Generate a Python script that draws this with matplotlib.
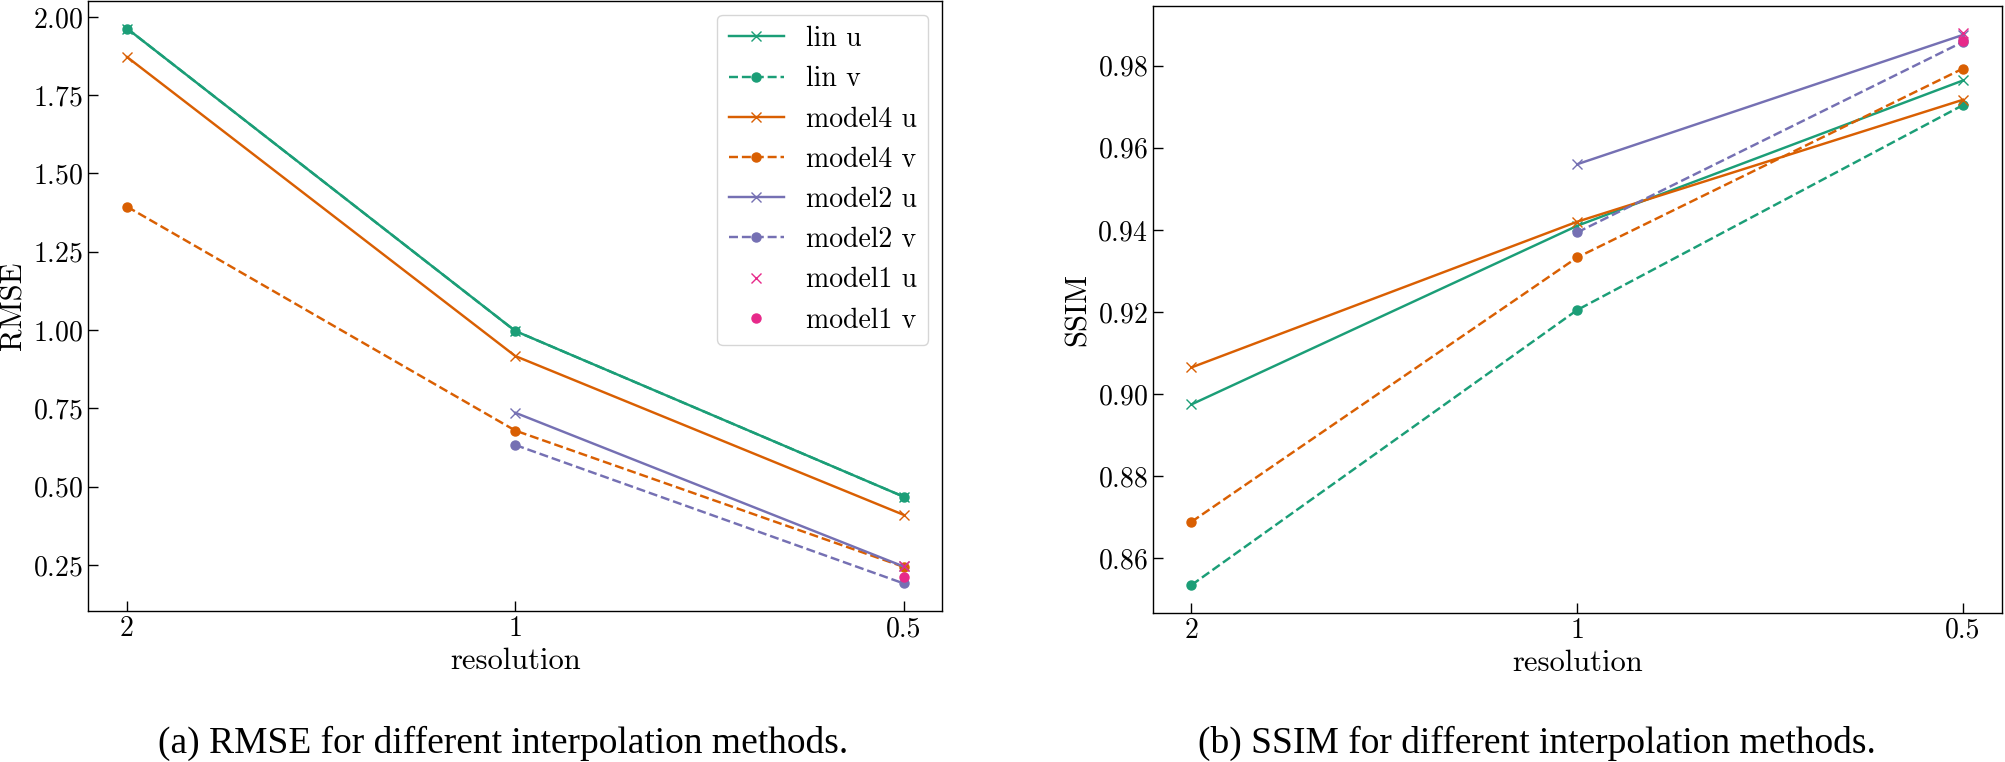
import numpy as np
import matplotlib
matplotlib.use("Agg")
import matplotlib.pyplot as plt

plt.rcParams['font.family'] = ['cmr10', 'DejaVu Serif']
plt.rcParams['axes.formatter.use_mathtext'] = True

# resolution categories (x axis)
resolutions = ['2', '1', '0.5']

# RMSE values
rmse_lin_u = [1.963, 0.997, 0.468]
rmse_lin_v = [1.963, 0.997, 0.468]
rmse_model4_u = [1.872, 0.917, 0.410]
rmse_model4_v = [1.394, 0.679, 0.244]
rmse_model2_u = [np.nan, 0.736, 0.245]
rmse_model2_v = [np.nan, 0.633, 0.191]
rmse_model1_u = [np.nan, np.nan, 0.245]
rmse_model1_v = [np.nan, np.nan, 0.210]

# SSIM values
ssim_lin_u = [0.8975, 0.9410, 0.9764]
ssim_lin_v = [0.8535, 0.9205, 0.9704]
ssim_model4_u = [0.9065, 0.9420, 0.9717]
ssim_model4_v = [0.8689, 0.9333, 0.9793]
ssim_model2_u = [np.nan, 0.9560, 0.9875]
ssim_model2_v = [np.nan, 0.9394, 0.9858]
ssim_model1_u = [np.nan, np.nan, 0.9879]
ssim_model1_v = [np.nan, np.nan, 0.9859]

green = '#1b9e77'
orange = '#d95f02'
purple = '#7570b3'
pink = '#e7298a'


def draw_panel(ax, series, ylabel):
    for label, vals, colour, ls, marker in series:
        ax.plot(resolutions, vals, color=colour, linestyle=ls, marker=marker,
                linewidth=1.75, markersize=6.5, label=label)
    ax.set_xlabel('resolution', fontsize=22)
    ax.set_ylabel(ylabel, fontsize=22)
    ax.tick_params(direction='in', length=7, width=1, labelsize=20)
    for sp in ax.spines.values():
        sp.set_linewidth(1.0)


fig = plt.figure(figsize=(20.05, 7.62), dpi=100)

ax1 = fig.add_axes([0.044, 0.198, 0.426, 0.801])
draw_panel(ax1, [
    ('lin u', rmse_lin_u, green, '-', 'x'),
    ('lin v', rmse_lin_v, green, '--', 'o'),
    ('model4 u', rmse_model4_u, orange, '-', 'x'),
    ('model4 v', rmse_model4_v, orange, '--', 'o'),
    ('model2 u', rmse_model2_u, purple, '-', 'x'),
    ('model2 v', rmse_model2_v, purple, '--', 'o'),
    ('model1 u', rmse_model1_u, pink, 'none', 'x'),
    ('model1 v', rmse_model1_v, pink, 'none', 'o'),
], 'RMSE')
ax1.legend(loc='upper right', fontsize=20)

ax2 = fig.add_axes([0.575, 0.196, 0.4233, 0.7966])
draw_panel(ax2, [
    ('lin u', ssim_lin_u, green, '-', 'x'),
    ('lin v', ssim_lin_v, green, '--', 'o'),
    ('model4 u', ssim_model4_u, orange, '-', 'x'),
    ('model4 v', ssim_model4_v, orange, '--', 'o'),
    ('model2 u', ssim_model2_u, purple, '-', 'x'),
    ('model2 v', ssim_model2_v, purple, '--', 'o'),
    ('model1 u', ssim_model1_u, pink, 'none', 'x'),
    ('model1 v', ssim_model1_v, pink, 'none', 'o'),
], 'SSIM')

fig.text(0.251, 0.025, '(a) RMSE for different interpolation methods.',
         ha='center', va='center', family='Liberation Serif', fontsize=27)
fig.text(0.7666, 0.025, '(b) SSIM for different interpolation methods.',
         ha='center', va='center', family='Liberation Serif', fontsize=27)

fig.savefig('out.png', dpi=100)
